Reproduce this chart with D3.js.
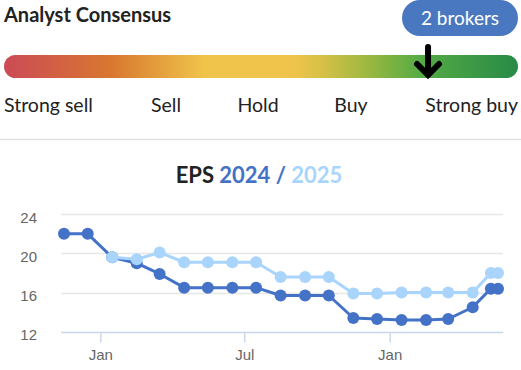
<!DOCTYPE html>
<html>
<head>
<meta charset="utf-8">
<script src="https://cdn.jsdelivr.net/npm/d3@7"></script>
<style>
  body { margin: 0; background: #fff; }
  svg { display: block; }
</style>
</head>
<body>
<div id="chart"></div>
<script>
// ratings scale and consensus
var ratingLabels = ["Strong sell", "Sell", "Hold", "Buy", "Strong buy"];
var consensus = 4.3;
var brokers = 2;

// EPS estimate history
var dates = ["2023-11-16", "2023-12-16", "2024-01-16", "2024-02-16", "2024-03-16",
  "2024-04-16", "2024-05-16", "2024-06-16", "2024-07-16", "2024-08-16",
  "2024-09-16", "2024-10-16", "2024-11-16", "2024-12-16", "2025-01-16",
  "2025-02-16", "2025-03-16", "2025-04-16", "2025-05-09", "2025-05-18"];
var eps2024 = [22.0, 22.0, 19.6, 19.0, 17.9, 16.5, 16.5, 16.5, 16.5, 15.7,
  15.7, 15.7, 13.4, 13.3, 13.2, 13.2, 13.3, 14.5, 16.4, 16.4];
var eps2025 = [null, null, 19.6, 19.4, 20.1, 19.1, 19.1, 19.1, 19.1, 17.6,
  17.6, 17.6, 15.9, 15.9, 16.0, 16.0, 16.0, 16.0, 18.0, 18.0];
var yTicks = [12, 16, 20, 24];
var xTicks = ["2024-01-01", "2024-07-01", "2025-01-01"];

var parse = d3.utcParse("%Y-%m-%d");
var svgWidth = 521, svgHeight = 370;
var c2024 = "#4472c7", c2025 = "#a9d4fc";

var svg = d3.select("#chart").append("svg")
  .attr("width", svgWidth)
  .attr("height", svgHeight);

// ---- header ----
svg.append("text")
  .attr("x", 4).attr("y", 22)
  .attr("font-family", "Lato").attr("font-weight", "bold")
  .attr("font-size", 20).attr("fill", "#222")
  .text("Analyst Consensus");

svg.append("rect")
  .attr("x", 402).attr("y", 0).attr("width", 116).attr("height", 36)
  .attr("rx", 18).attr("fill", "#4a78c0");
svg.append("text")
  .attr("x", 460).attr("y", 24.5)
  .attr("text-anchor", "middle")
  .attr("font-family", "Lato").attr("font-size", 19).attr("fill", "#fff")
  .text(brokers + " brokers");

// gradient bar
var defs = svg.append("defs");
var grad = defs.append("linearGradient").attr("id", "cons");
[[0, "#cc4a56"], [0.21, "#d8782f"], [0.39, "#f0c44b"], [0.56, "#f0c44b"],
 [0.62, "#d6c047"], [0.71, "#9ab840"], [0.81, "#55ab44"], [1, "#278a46"]]
  .forEach(function(s) {
    grad.append("stop").attr("offset", s[0]).attr("stop-color", s[1]);
  });

var barX0 = 4, barX1 = 518;
svg.append("rect")
  .attr("x", barX0).attr("y", 55).attr("width", barX1 - barX0).attr("height", 23)
  .attr("rx", 11.5).attr("fill", "url(#cons)");

var ratingScale = d3.scaleLinear().domain([1, 5]).range([barX0, barX1]);
var ax = ratingScale(consensus);
svg.append("path")
  .attr("d", `M${ax},47 V75 M${ax - 11},64 L${ax},75 L${ax + 11},64`)
  .attr("fill", "none").attr("stroke", "#000")
  .attr("stroke-width", 6).attr("stroke-linecap", "round")
  .attr("stroke-linejoin", "miter");

// rating labels
var labelX = [4, 166, 258, 351, 518];
var anchors = ["start", "middle", "middle", "middle", "end"];
svg.selectAll(".rating").data(ratingLabels).enter().append("text")
  .attr("class", "rating")
  .attr("x", (d, i) => labelX[i]).attr("y", 112)
  .attr("text-anchor", (d, i) => anchors[i])
  .attr("font-family", "Lato").attr("font-size", 19.5).attr("fill", "#222")
  .text(d => d);

svg.append("line")
  .attr("x1", 0).attr("x2", svgWidth).attr("y1", 139.5).attr("y2", 139.5)
  .attr("stroke", "#e2e2e2").attr("stroke-width", 1.5);

// ---- EPS chart ----
var title = svg.append("text")
  .attr("x", 259).attr("y", 183)
  .attr("text-anchor", "middle")
  .attr("font-family", "Lato").attr("font-weight", "bold").attr("font-size", 22);
title.append("tspan").attr("fill", "#222").text("EPS ");
title.append("tspan").attr("fill", c2024).text("2024 / ");
title.append("tspan").attr("fill", c2025).text("2025");

var plotLeft = 61, plotRight = 503;
var data = dates.map(function(d, i) {
  return { date: parse(d), a: eps2024[i], b: eps2025[i] };
});

var x = d3.scaleUtc()
  .domain(d3.extent(data, d => d.date))
  .range([64, 498]);
var y = d3.scaleLinear().domain([12, 24]).range([331.7, 214.3]);

// grid lines
svg.append("g").selectAll("line").data(yTicks.slice(1)).enter().append("line")
  .attr("x1", plotLeft).attr("x2", plotRight)
  .attr("y1", d => Math.round(y(d)) + 0.5).attr("y2", d => Math.round(y(d)) + 0.5)
  .attr("stroke", "#e6e6e6").attr("stroke-width", 1.5);

// y axis labels
var yAxis = svg.append("g")
  .attr("transform", "translate(37,0)")
  .call(d3.axisLeft(y).tickValues(yTicks).tickSize(0).tickPadding(0));
yAxis.select(".domain").remove();
yAxis.selectAll("text")
  .attr("font-family", "Liberation Sans, Arial, sans-serif")
  .attr("font-size", 15).attr("fill", "#666")
  .attr("dy", "0.55em");

// x axis
var xAxis = svg.append("g")
  .attr("transform", `translate(0,${Math.round(y(12)) + 0.5})`)
  .call(d3.axisBottom(x).tickValues(xTicks.map(parse))
    .tickFormat(d3.utcFormat("%b")).tickSize(10).tickSizeOuter(0).tickPadding(7));
xAxis.select(".domain")
  .attr("d", `M${plotLeft},0H${plotRight}`)
  .attr("stroke", "#ccd6eb").attr("stroke-width", 1.5);
xAxis.selectAll(".tick line").attr("stroke", "#ccd6eb").attr("stroke-width", 1.5);
xAxis.selectAll(".tick text")
  .attr("font-family", "Liberation Sans, Arial, sans-serif")
  .attr("font-size", 15).attr("fill", "#666");

// series
function drawSeries(key, color) {
  var pts = data.filter(d => d[key] != null);
  var line = d3.line().x(d => x(d.date)).y(d => y(d[key]));
  svg.append("path").datum(pts)
    .attr("d", line).attr("fill", "none")
    .attr("stroke", color).attr("stroke-width", 3)
    .attr("stroke-linejoin", "round");
  svg.append("g").selectAll("circle").data(pts).enter().append("circle")
    .attr("cx", d => x(d.date)).attr("cy", d => y(d[key]))
    .attr("r", 6).attr("fill", color);
}
drawSeries("a", c2024);
drawSeries("b", c2025);
</script>
</body>
</html>
